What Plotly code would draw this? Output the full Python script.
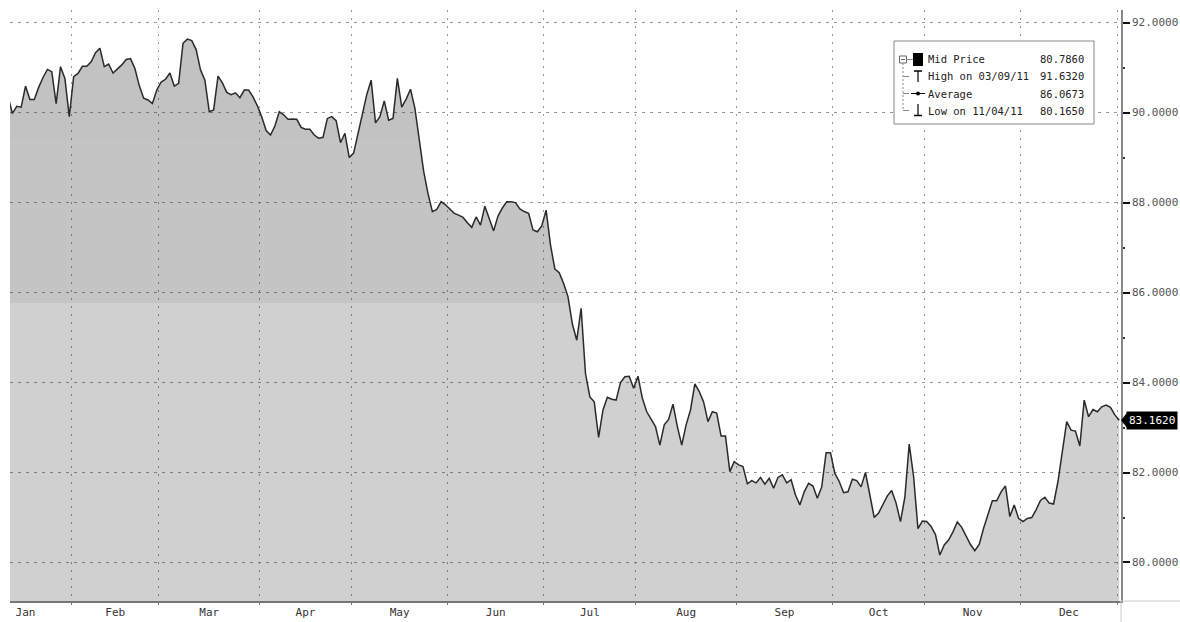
import numpy as np
import pandas as pd
import plotly.graph_objects as go

# ---------------- data ----------------
price = [
    90.35, 89.98, 90.14, 90.12, 90.59, 90.29, 90.29, 90.56, 90.78, 90.96,
    90.91, 90.20, 91.02, 90.76, 89.91, 90.80, 90.87, 91.03, 91.03, 91.13,
    91.33, 91.43, 91.02, 91.08, 90.88, 90.97, 91.06, 91.18, 91.20, 90.98,
    90.60, 90.32, 90.28, 90.20, 90.50, 90.68, 90.74, 90.88, 90.59, 90.65,
    91.54, 91.632, 91.60, 91.40, 90.95, 90.72, 90.02, 90.06, 90.81, 90.66,
    90.45, 90.40, 90.44, 90.33, 90.50, 90.50, 90.35, 90.15, 89.90, 89.60,
    89.50, 89.70, 90.02, 89.95, 89.85, 89.86, 89.85, 89.67, 89.63, 89.63,
    89.50, 89.43, 89.45, 89.87, 89.91, 89.82, 89.33, 89.54, 89.00, 89.10,
    89.54, 89.95, 90.40, 90.72, 89.77, 89.91, 90.26, 89.83, 89.87, 90.76,
    90.12, 90.30, 90.52, 90.10, 89.40, 88.70, 88.20, 87.80, 87.85, 88.02,
    87.95, 87.85, 87.76, 87.72, 87.67, 87.55, 87.45, 87.68, 87.50, 87.92,
    87.65, 87.37, 87.70, 87.88, 88.02, 88.02, 88.00, 87.86, 87.80, 87.76,
    87.39, 87.35, 87.48, 87.83, 87.06, 86.52, 86.44, 86.20, 85.91, 85.30,
    84.94, 85.65, 84.20, 83.68, 83.57, 82.78, 83.39, 83.67, 83.63, 83.61,
    84.00, 84.13, 84.14, 83.87, 84.14, 83.65, 83.35, 83.18, 83.02, 82.61,
    83.06, 83.18, 83.52, 83.02, 82.61, 83.06, 83.39, 83.97, 83.80, 83.57,
    83.13, 83.35, 83.32, 82.81, 82.81, 82.02, 82.24, 82.17, 82.13, 81.75,
    81.82, 81.77, 81.89, 81.74, 81.87, 81.65, 81.89, 81.95, 81.77, 81.84,
    81.50, 81.28, 81.57, 81.76, 81.70, 81.43, 81.68, 82.44, 82.44, 81.98,
    81.80, 81.55, 81.57, 81.85, 81.82, 81.68, 82.00, 81.50, 81.00, 81.10,
    81.30, 81.48, 81.60, 81.32, 80.91, 81.45, 82.63, 81.91, 80.75, 80.92,
    80.91, 80.80, 80.62, 80.165, 80.39, 80.50, 80.68, 80.90, 80.78, 80.60,
    80.40, 80.26, 80.40, 80.76, 81.09, 81.37, 81.37, 81.57, 81.70, 81.02,
    81.28, 80.98, 80.91, 80.98, 81.00, 81.17, 81.38, 81.45, 81.32, 81.30,
    81.80, 82.50, 83.13, 82.94, 82.92, 82.59, 83.61, 83.24, 83.40, 83.35,
    83.46, 83.50, 83.45, 83.28, 83.162,
]
start_date = "2011-01-11"
month_names = ["Jan", "Feb", "Mar", "Apr", "May", "Jun",
               "Jul", "Aug", "Sep", "Oct", "Nov", "Dec"]
y_ticks = [80, 82, 84, 86, 88, 90, 92]
y_minor = [81, 83, 85, 87, 89, 91]
legend_labels = ["Mid Price", "High on 03/09/11", "Average", "Low on 11/04/11"]
legend_values = ["80.7860", "91.6320", "86.0673", "80.1650"]
last_label = "83.1620"
band_levels = [85.77, 89.39]

# ---------------- business-day index axis ----------------
full_days = pd.bdate_range("2011-01-03", "2012-01-31")
first = full_days.get_loc(pd.Timestamp(start_date))
pos = np.arange(len(full_days)) - first
x = np.arange(len(price))
periods = full_days.to_period("M")
bounds = [pos[periods == p][0] - 0.5 for p in periods.unique()][:13]
centers = [(bounds[i] + bounds[i + 1]) / 2 for i in range(12)]
x_range = [0.45, 254.41]
y_range = [79.144, 92.28]

# ---------------- figure geometry ----------------
W, H = 1180, 622
ML, MR, MT, MB = 10, 59, 10, 21
PW, PH = W - ML - MR, H - MT - MB


def px(xp):
    return (xp - ML) / PW


def py(yp):
    return (H - MB - yp) / PH


def band(xs, ys, lo, hi):
    bx, by = [], []
    for i in range(len(xs)):
        if i > 0:
            y0, y1 = ys[i - 1], ys[i]
            cr = []
            for lev in (lo, hi):
                if (y0 - lev) * (y1 - lev) < 0:
                    t = (lev - y0) / (y1 - y0)
                    cr.append((t, lev))
            for t, lev in sorted(cr):
                bx.append(xs[i - 1] + t * (xs[i] - xs[i - 1]))
                by.append(lev)
        bx.append(xs[i])
        by.append(min(max(ys[i], lo), hi))
    return bx, by


fig = go.Figure()
fig.add_trace(go.Scatter(x=x, y=price, mode="lines", line=dict(width=0),
                         fill="tozeroy", fillcolor="rgba(0,0,0,0.184)",
                         hoverinfo="skip", showlegend=False))
for lo, hi, color in [(band_levels[0], band_levels[1], "rgba(0,0,0,0.055)"),
                      (band_levels[1], 100.0, "rgba(0,0,0,0.065)")]:
    bx, by = band(list(x), price, lo, hi)
    poly_x = list(bx) + list(bx[::-1])
    poly_y = list(by) + [lo] * len(bx)
    fig.add_trace(go.Scatter(x=poly_x, y=poly_y, mode="lines", line=dict(width=0),
                             fill="toself", fillcolor=color,
                             hoverinfo="skip", showlegend=False))
fig.add_trace(go.Scatter(x=x, y=price, mode="lines",
                         line=dict(color="#2a2a2a", width=1.5),
                         hoverinfo="skip", showlegend=False))
fig.add_trace(go.Scatter(x=[centers[0]], y=[None], xaxis="x2", mode="lines",
                         showlegend=False, hoverinfo="skip"))

FONT = "DejaVu Sans Mono"
fig.update_layout(
    template="none",
    width=W, height=H,
    margin=dict(l=ML, r=MR, t=MT, b=MB, pad=0, autoexpand=False),
    paper_bgcolor="white", plot_bgcolor="white",
    font=dict(family=FONT, size=11, color="#333"),
    showlegend=False,
    xaxis=dict(range=x_range, tickmode="array", tickvals=centers, ticktext=month_names,
               showgrid=False, zeroline=False, ticks="", showline=True, automargin=False,
               linecolor="#777", linewidth=2, tickfont=dict(size=11, color="#333")),
    xaxis2=dict(range=x_range, overlaying="x", anchor="y", side="bottom",
                tickmode="array", tickvals=bounds[1:], showticklabels=False,
                showgrid=True, gridcolor="#999", griddash="2px,6px", gridwidth=1,
                ticks="outside", ticklen=3, tickcolor="#777", showline=False,
                zeroline=False, automargin=False),
    yaxis=dict(range=y_range, side="right", tickmode="array", tickvals=y_ticks,
               tickformat=".4f", showgrid=True, gridcolor="#999",
               griddash="3px,5px", gridwidth=1, ticks="outside", ticklen=7,
               tickwidth=2, tickcolor="#111", showline=True, linecolor="#888",
               linewidth=1.5, zeroline=False, automargin=False,
               tickfont=dict(size=11, color="#555"),
               minor=dict(tickmode="array", tickvals=y_minor, ticks="outside",
                          ticklen=2, tickwidth=2, tickcolor="#333", showgrid=False)),
)

shapes = []
# frame extensions
shapes.append(dict(type="line", xref="paper", yref="paper", x0=1, x1=px(W), y0=0, y1=0,
                   line=dict(color="#ccc", width=1)))
shapes.append(dict(type="line", xref="paper", yref="paper", x0=1, x1=1, y0=0, y1=py(H),
                   line=dict(color="#ccc", width=1)))
# legend box
shapes.append(dict(type="rect", xref="paper", yref="paper",
                   x0=px(894), x1=px(1094), y0=py(124), y1=py(41),
                   line=dict(color="#888", width=1), fillcolor="white"))
rows = [59.5, 76.5, 93.5, 110.5]
# tree
shapes.append(dict(type="rect", xref="paper", yref="paper",
                   x0=px(899.5), x1=px(906.5), y0=py(63), y1=py(56),
                   line=dict(color="#666", width=1), fillcolor="white"))
shapes.append(dict(type="line", xref="paper", yref="paper",
                   x0=px(901), x1=px(905), y0=py(59.5), y1=py(59.5),
                   line=dict(color="#666", width=1)))
shapes.append(dict(type="line", xref="paper", yref="paper",
                   x0=px(903), x1=px(903), y0=py(63), y1=py(rows[3]),
                   line=dict(color="#888", width=1, dash="2px,2px")))
for r in rows[1:]:
    shapes.append(dict(type="line", xref="paper", yref="paper",
                       x0=px(903), x1=px(909), y0=py(r), y1=py(r),
                       line=dict(color="#888", width=1)))
shapes.append(dict(type="line", xref="paper", yref="paper",
                   x0=px(906.5), x1=px(913), y0=py(59.5), y1=py(59.5),
                   line=dict(color="#888", width=1)))
# icons
shapes.append(dict(type="rect", xref="paper", yref="paper",
                   x0=px(913), x1=px(923), y0=py(66), y1=py(53),
                   line=dict(color="black", width=0), fillcolor="black"))
shapes.append(dict(type="line", xref="paper", yref="paper", x0=px(914), x1=px(922),
                   y0=py(71), y1=py(71), line=dict(color="black", width=1.5)))
shapes.append(dict(type="line", xref="paper", yref="paper", x0=px(918), x1=px(918),
                   y0=py(71), y1=py(82), line=dict(color="black", width=1.2)))
shapes.append(dict(type="line", xref="paper", yref="paper", x0=px(911), x1=px(925),
                   y0=py(93.5), y1=py(93.5), line=dict(color="black", width=1)))
shapes.append(dict(type="circle", xref="paper", yref="paper", x0=px(916), x1=px(920),
                   y0=py(95.5), y1=py(91.5), line=dict(color="black", width=0),
                   fillcolor="black"))
shapes.append(dict(type="line", xref="paper", yref="paper", x0=px(918), x1=px(918),
                   y0=py(104), y1=py(115.5), line=dict(color="black", width=1.2)))
shapes.append(dict(type="line", xref="paper", yref="paper", x0=px(914), x1=px(922),
                   y0=py(115.5), y1=py(115.5), line=dict(color="black", width=1.5)))
# last value tag arrow
yl = price[-1]
d = 7.5 / PH * (y_range[1] - y_range[0])
shapes.append(dict(type="path", xref="paper", yref="y",
                   path=f"M {px(1121)},{yl} L {px(1127)},{yl + d} L {px(1127)},{yl - d} Z",
                   line=dict(width=0), fillcolor="black"))
fig.update_layout(shapes=shapes)

ann = []
for r, lab, val in zip(rows, legend_labels, legend_values):
    ann.append(dict(xref="paper", yref="paper", x=px(926), y=py(r), text=lab,
                    showarrow=False, xanchor="left", yanchor="middle",
                    font=dict(family=FONT, size=10.5, color="#222")))
    ann.append(dict(xref="paper", yref="paper", x=px(1086), y=py(r), text=val,
                    showarrow=False, xanchor="right", yanchor="middle",
                    font=dict(family=FONT, size=10.5, color="#222")))
ann.append(dict(xref="paper", yref="y", x=px(1126), y=yl, text=last_label,
                showarrow=False, xanchor="left", yanchor="middle", bgcolor="black",
                borderpad=2, font=dict(family=FONT, size=11, color="white")))
fig.update_layout(annotations=ann)

post = (
    "document.body.style.margin='0';"
    "document.body.style.overflow='hidden';"
)
fig.write_html("out.html", config={"displayModeBar": False}, post_script=post)
